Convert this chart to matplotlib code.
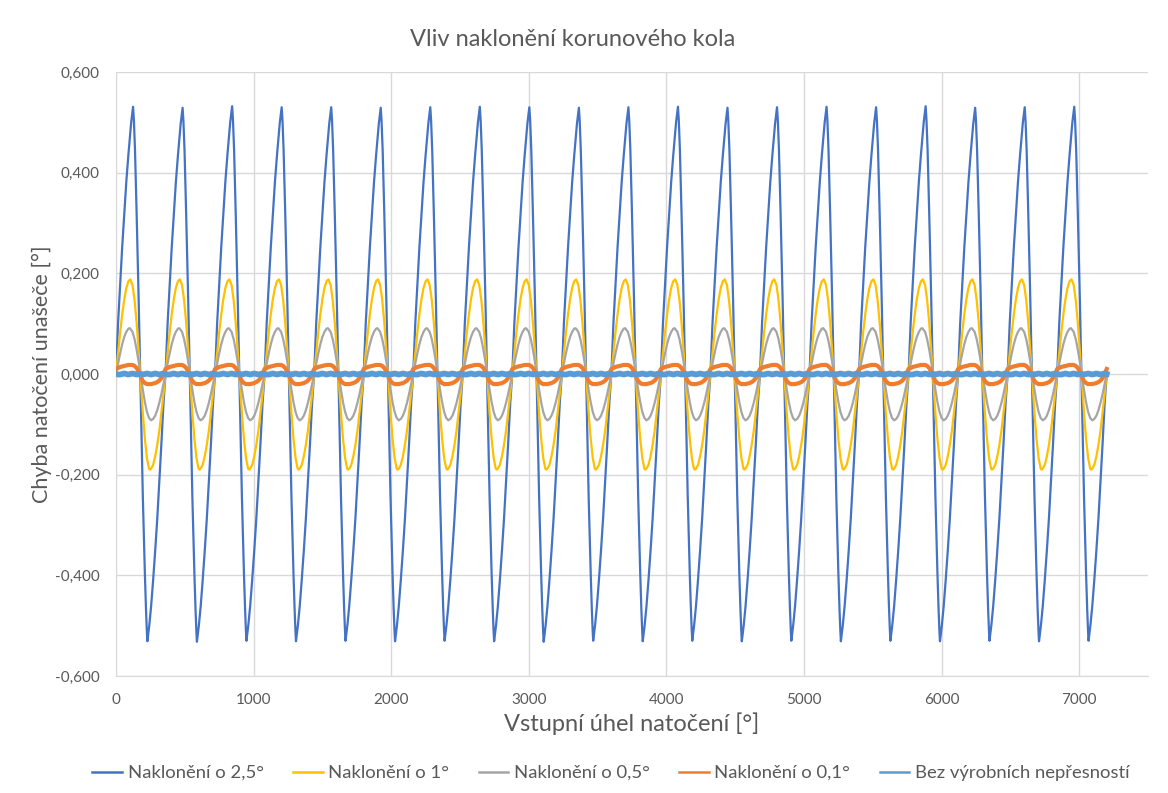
import numpy as np
import matplotlib
matplotlib.use("Agg")
import matplotlib.pyplot as plt
from matplotlib.ticker import FuncFormatter, FixedLocator

# ---- data ----
title = "Vliv naklonění korunového kola"
x_label = "Vstupní úhel natočení [°]"
y_label = "Chyba natočení unašeče [°]"
series_names = ["Naklonění o 2,5°", "Naklonění o 1°", "Naklonění o 0,5°",
                "Naklonění o 0,1°", "Bez výrobních nepřesností"]
x_ticks = [0, 1000, 2000, 3000, 4000, 5000, 6000, 7000]
y_ticks = [-0.6, -0.4, -0.2, 0.0, 0.2, 0.4, 0.6]

# start of each input revolution (360°)
cycle_starts = [0, 360, 720, 1080, 1440, 1800, 2160, 2520, 2880, 3240,
                3600, 3960, 4320, 4680, 5040, 5400, 5760, 6120, 6480, 6840]

# one-cycle shapes (peak = +1, trough = -1), read at these phases
phase_25 = [0, 15, 30, 45, 60, 75, 90, 100, 110, 118, 124, 130, 138, 150, 165,
            180, 195, 210, 218, 224, 228, 234, 242, 255, 270, 285, 300, 315,
            330, 345, 360]
shape_25 = [0.00, 0.19, 0.335, 0.475, 0.60, 0.72, 0.82, 0.88, 0.94, 0.975,
            1.00, 0.95, 0.84, 0.60, 0.27, -0.10, -0.46, -0.75, -0.88, -0.96,
            -1.00, -0.975, -0.94, -0.87, -0.77, -0.66, -0.54, -0.40, -0.26,
            -0.11, 0.00]

phase_10 = [0, 15, 30, 45, 60, 75, 90, 104, 120, 135, 150, 165, 180, 195, 210,
            225, 240, 247, 255, 270, 285, 300, 315, 330, 345, 360]
shape_10 = [0.00, 0.22, 0.44, 0.63, 0.79, 0.91, 0.98, 1.00, 0.94, 0.78, 0.54,
            0.24, -0.09, -0.41, -0.68, -0.88, -0.99, -1.00, -0.99, -0.95,
            -0.86, -0.74, -0.59, -0.40, -0.21, 0.00]

phase_05 = [0, 15, 30, 45, 60, 75, 90, 100, 120, 135, 150, 165, 180, 195, 210,
            225, 240, 255, 270, 285, 300, 315, 330, 345, 360]
shape_05 = [0.00, 0.23, 0.45, 0.65, 0.81, 0.92, 0.99, 1.00, 0.92, 0.76, 0.53,
            0.26, -0.04, -0.34, -0.61, -0.82, -0.95, -1.00, -0.97, -0.90,
            -0.78, -0.62, -0.43, -0.22, 0.00]

phase_01 = [0, 15, 30, 45, 60, 75, 90, 105, 120, 135, 150, 165, 180, 195, 210,
            225, 240, 255, 270, 285, 300, 315, 330, 345, 360]
shape_01 = [0.010, 0.012, 0.014, 0.015, 0.016, 0.017, 0.018, 0.018, 0.018,
            0.016, 0.012, 0.004, -0.006, -0.014, -0.018, -0.020, -0.020,
            -0.020, -0.019, -0.018, -0.016, -0.013, -0.008, 0.000, 0.010]
shape_00 = [0.0, -0.001, -0.001, 0.0, 0.001, 0.0, -0.001, 0.0, 0.001, 0.0,
            -0.001, 0.0, 0.0, -0.001, 0.0, 0.001, 0.0, -0.001, 0.0, 0.001,
            0.0, -0.001, 0.0, 0.001, 0.0]

# per-cycle peak / trough values
peak_25 = [0.531, 0.529, 0.532, 0.530, 0.530, 0.529, 0.530, 0.531, 0.530, 0.529,
           0.530, 0.531, 0.529, 0.530, 0.531, 0.530, 0.532, 0.529, 0.530, 0.531]
trough_25 = [-0.531, -0.532, -0.530, -0.531, -0.530, -0.531, -0.530, -0.531,
             -0.532, -0.530, -0.531, -0.530, -0.531, -0.530, -0.531, -0.530,
             -0.531, -0.530, -0.531, -0.530]
peak_10 = [0.188] * 20
trough_10 = [-0.190] * 20
peak_05 = [0.091] * 20
trough_05 = [-0.092] * 20


def build(phases, shape, peaks=None, troughs=None):
    xs, ys = [], []
    for k, c0 in enumerate(cycle_starts):
        for i, ph in enumerate(phases[:-1]):
            v = shape[i]
            if peaks is not None:
                v = v * (peaks[k] if v >= 0 else -troughs[k])
            xs.append(c0 + ph)
            ys.append(v)
    xs.append(cycle_starts[-1] + phases[-1])
    ys.append(shape[-1])
    return np.array(xs), np.array(ys)


x25, y25 = build(phase_25, shape_25, peak_25, trough_25)
x10, y10 = build(phase_10, shape_10, peak_10, trough_10)
x05, y05 = build(phase_05, shape_05, peak_05, trough_05)
x01, y01 = build(phase_01, shape_01)
x00, y00 = build(phase_01, shape_00)

# ---- styling ----
plt.rcParams["font.family"] = ["Lato", "DejaVu Sans"]
txt = "#595959"
grid_c = "#D9D9D9"
colors = ["#4472C4", "#FFC000", "#A5A5A5", "#ED7D31", "#5B9BD5"]

W, H = 1168, 793
fig = plt.figure(figsize=(W / 100, H / 100), dpi=100)
ax = fig.add_axes([116 / W, 1 - 676 / H, (1148 - 116) / W, (676 - 72) / H])

ax.plot(x25, y25, color=colors[0], lw=1.6, label=series_names[0], zorder=3)
ax.plot(x10, y10, color=colors[1], lw=1.6, label=series_names[1], zorder=4)
ax.plot(x05, y05, color=colors[2], lw=1.6, label=series_names[2], zorder=5)
ax.plot(x01, y01, color=colors[3], lw=3.0, label=series_names[3], zorder=6)
ax.plot(x00, y00, color=colors[4], lw=4.2, label=series_names[4], zorder=7)

ax.set_xlim(0, 7500)
ax.set_ylim(-0.6, 0.6)
ax.xaxis.set_major_locator(FixedLocator(x_ticks))
ax.yaxis.set_major_locator(FixedLocator(y_ticks))
ax.yaxis.set_major_formatter(FuncFormatter(lambda v, p: f"{v:.3f}".replace(".", ",").replace("-0,000", "0,000")))
ax.grid(True, color=grid_c, lw=1.0, zorder=0)
ax.set_axisbelow(True)
for s in ["top", "right"]:
    ax.spines[s].set_visible(False)
ax.spines["left"].set_color(grid_c)
ax.spines["bottom"].set_color(grid_c)
ax.tick_params(length=0, labelsize=11, colors=txt, pad=12)

fig.text(573 / W, 1 - 40 / H, title, fontsize=17, color=txt, ha="center", va="center")
ax.set_xlabel(x_label, fontsize=17, color=txt)
ax.xaxis.set_label_coords(0.5, (676 - 724) / 604)
ax.xaxis.label.set_va("center")
ax.set_ylabel(y_label, fontsize=15.5, color=txt)
ax.yaxis.set_label_coords((42 - 116) / 1032, 0.5)
ax.yaxis.label.set_va("center")

handles, labels = ax.get_legend_handles_labels()
leg = fig.legend(handles, labels, loc="center", bbox_to_anchor=(611 / W, 1 - 773 / H),
                 ncol=5, frameon=False, fontsize=13.3, handlelength=1.6,
                 columnspacing=1.6, handletextpad=0.3)
for t in leg.get_texts():
    t.set_color(txt)
for l in leg.get_lines():
    l.set_linewidth(1.8)

fig.savefig("out.png", dpi=100)
